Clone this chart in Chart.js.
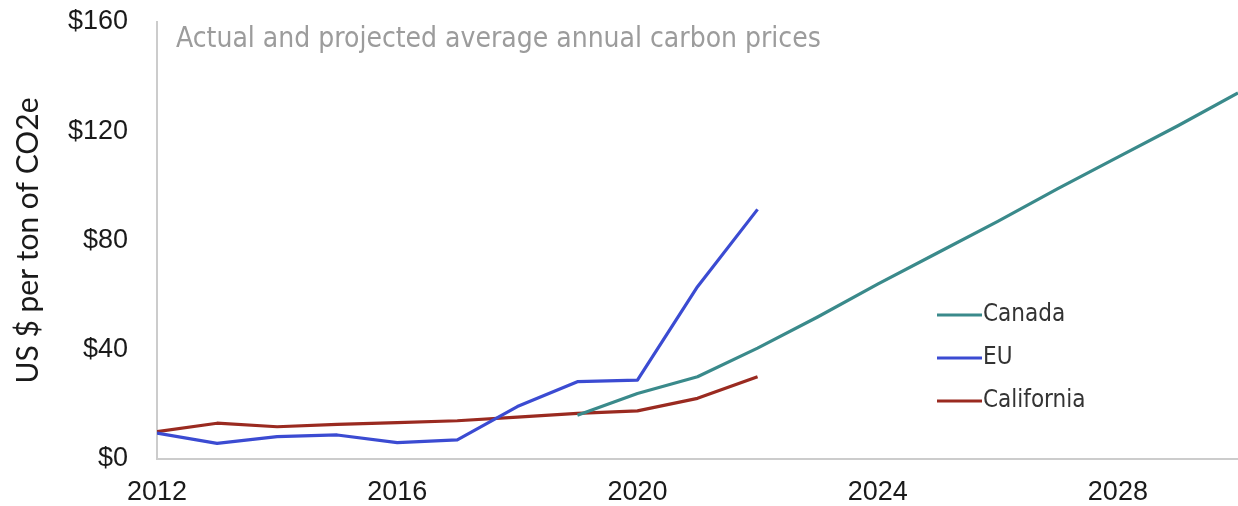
<!DOCTYPE html>
<html>
<head>
<meta charset="utf-8">
<script src="https://cdn.jsdelivr.net/npm/chart.js@4.4.1/dist/chart.umd.min.js"></script>
<style>
  html, body { margin: 0; padding: 0; background: #ffffff; }
  #wrap { width: 1238px; height: 506px; }
</style>
</head>
<body>
<div id="wrap"><canvas id="chart" width="1238" height="506"></canvas></div>
<script>
// Years with observed prices (EU and California)
const years = [2012, 2013, 2014, 2015, 2016, 2017, 2018, 2019, 2020, 2021, 2022];
const euPrices = [9.5, 5.7, 8.2, 8.8, 6.0, 7.0, 19.2, 28.3, 28.9, 63.1, 91.4];
const californiaPrices = [10.0, 13.1, 11.8, 12.7, 13.3, 14.0, 15.3, 16.7, 17.6, 22.2, 30.1];

// Canada: actual price from 2019, scheduled path to 2030
const canadaYears = [2019, 2020, 2021, 2022, 2023, 2024, 2025, 2026, 2027, 2028, 2029, 2030];
const canadaPrices = [16, 24, 30.1, 40.6, 52, 64, 75.5, 87, 99, 110.5, 122, 134];

// Axis ticks
const xTickValues = [2012, 2016, 2020, 2024, 2028];
const yTickValues = [0, 40, 80, 120, 160];

const seriesNames = ['Canada', 'EU', 'California'];
const seriesColors = ['#3a8a8b', '#3b4bd2', '#9a2a20'];

const chartTitle = 'Actual and projected average annual carbon prices';
const yAxisTitle = 'US $ per ton of CO2e';

const toPoints = (xs, ys) => xs.map((x, i) => ({ x: x, y: ys[i] }));

// Title written inside the plot area, top-left
const innerTitle = {
  id: 'innerTitle',
  afterDraw(chart) {
    const { ctx, chartArea } = chart;
    ctx.save();
    ctx.font = '28px "DejaVu Sans Condensed", "DejaVu Sans", sans-serif';
    ctx.fillStyle = '#9c9c9c';
    ctx.textAlign = 'left';
    ctx.textBaseline = 'middle';
    ctx.fillText(chartTitle, chartArea.left + 19, chartArea.top + 18);
    ctx.restore();
  }
};

// Legend placed inside the plot area, lower right
const innerLegend = {
  id: 'innerLegend',
  afterDraw(chart) {
    const { ctx, chartArea } = chart;
    const x0 = chartArea.left + 780;
    const y0 = chartArea.top + 293;
    const gap = 43;
    ctx.save();
    ctx.font = '24px "DejaVu Sans Condensed", "DejaVu Sans", sans-serif';
    ctx.textAlign = 'left';
    ctx.textBaseline = 'middle';
    chart.data.datasets.forEach((ds, i) => {
      const y = y0 + i * gap;
      ctx.strokeStyle = ds.borderColor;
      ctx.lineWidth = 3;
      ctx.beginPath();
      ctx.moveTo(x0, y);
      ctx.lineTo(x0 + 45, y);
      ctx.stroke();
      ctx.fillStyle = '#333333';
      ctx.fillText(ds.label, x0 + 46, y);
    });
    ctx.restore();
  }
};

new Chart(document.getElementById('chart'), {
  type: 'line',
  data: {
    datasets: [
      { label: seriesNames[0], data: toPoints(canadaYears, canadaPrices), borderColor: seriesColors[0] },
      { label: seriesNames[1], data: toPoints(years, euPrices), borderColor: seriesColors[1] },
      { label: seriesNames[2], data: toPoints(years, californiaPrices), borderColor: seriesColors[2] }
    ]
  },
  options: {
    responsive: false,
    animation: false,
    devicePixelRatio: 1,
    layout: { padding: 0 },
    elements: {
      line: { borderWidth: 3.2, tension: 0, fill: false, borderJoinStyle: 'round', borderCapStyle: 'butt' },
      point: { radius: 0, hoverRadius: 0 }
    },
    plugins: {
      legend: { display: false },
      title: { display: false },
      tooltip: { enabled: false }
    },
    scales: {
      x: {
        type: 'linear',
        min: 2012,
        max: 2030,
        afterBuildTicks(scale) { scale.ticks = xTickValues.map(v => ({ value: v })); },
        afterFit(scale) {
          scale.height = 47;
          scale.paddingLeft = 0;
          scale.paddingRight = 0;
        },
        grid: { display: false, drawTicks: false },
        border: { display: true, color: '#cccccc', width: 2 },
        ticks: {
          padding: 17,
          color: '#1a1a1a',
          font: { family: '"Liberation Sans", Arial, sans-serif', size: 27 },
          callback: v => String(v)
        }
      },
      y: {
        type: 'linear',
        min: 0,
        max: 160,
        afterBuildTicks(scale) { scale.ticks = yTickValues.map(v => ({ value: v })); },
        afterFit(scale) {
          scale.width = 157;
          scale.paddingTop = 22;
          scale.paddingBottom = 0;
        },
        grid: { display: false, drawTicks: false },
        border: { display: true, color: '#cccccc', width: 2 },
        ticks: {
          padding: 29,
          color: '#1a1a1a',
          font: { family: '"Liberation Sans", Arial, sans-serif', size: 27 },
          callback: v => '$' + v
        },
        title: {
          display: true,
          text: yAxisTitle,
          color: '#1a1a1a',
          padding: { top: 10, bottom: 0 },
          font: { family: 'Lato, "Open Sans", sans-serif', size: 30 }
        }
      }
    }
  },
  plugins: [innerTitle, innerLegend]
});
</script>
</body>
</html>
